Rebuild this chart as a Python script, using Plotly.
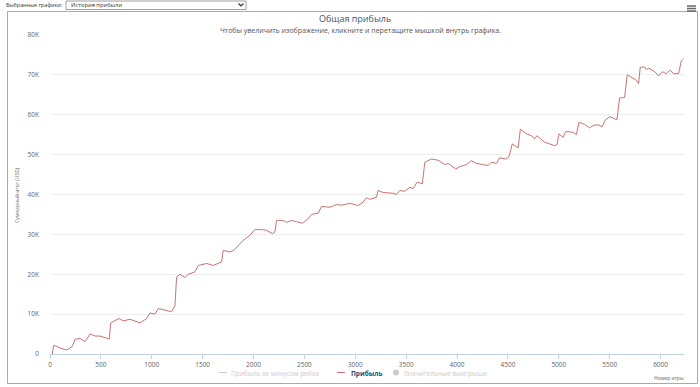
import plotly.graph_objects as go

# Game number (x) and cumulative profit in USD (y)
games = [0, 20, 35, 60, 100, 164, 213, 230, 245, 295, 344, 393, 442, 491, 583, 596,
         678, 720, 786, 884, 950, 982, 1031, 1064, 1130, 1195, 1228, 1244, 1277, 1326,
         1359, 1424, 1457, 1539, 1604, 1686, 1702, 1768, 1807, 1898, 1964, 2013, 2079,
         2128, 2187, 2210, 2226, 2291, 2324, 2373, 2422, 2481, 2537, 2570, 2635, 2668,
         2750, 2816, 2865, 2946, 3028, 3077, 3110, 3143, 3208, 3224, 3274, 3372, 3404,
         3437, 3486, 3535, 3568, 3607, 3659, 3683, 3748, 3813, 3879, 3912, 3987, 4027,
         4092, 4141, 4190, 4239, 4305, 4337, 4387, 4419, 4478, 4511, 4543, 4600, 4622,
         4674, 4730, 4763, 4785, 4861, 4910, 4959, 4982, 5001, 5041, 5067, 5139, 5172,
         5198, 5253, 5302, 5335, 5384, 5427, 5450, 5499, 5548, 5571, 5597, 5646, 5672,
         5728, 5761, 5784, 5800, 5842, 5859, 5885, 5941, 5983, 6016, 6056, 6095, 6128,
         6177, 6203, 6226]
profit = [0, -400, 2100, 2000, 1500, 1000, 1800, 2500, 3700, 3900, 3100, 5000, 4500,
          4500, 3750, 7800, 8900, 8300, 8700, 7800, 8900, 10300, 10000, 11400, 11000,
          10600, 12200, 19300, 20000, 19200, 20000, 20600, 22200, 22700, 22200, 23100,
          26000, 25600, 26000, 28500, 29750, 31200, 31200, 31000, 30200, 30600, 33500,
          33500, 33000, 33500, 33200, 32800, 33900, 35000, 35300, 37000, 36800, 37500,
          37300, 37800, 37250, 38100, 39200, 38800, 39300, 41000, 40500, 40300, 40000,
          41000, 40800, 41800, 41500, 43100, 42700, 48100, 48900, 48600, 47500, 47800,
          46400, 47000, 47500, 48500, 47800, 47500, 47250, 48100, 47800, 49200, 48900,
          49500, 52700, 51700, 56400, 55300, 54750, 54000, 54750, 53100, 52700, 52250,
          52500, 55200, 54300, 55800, 55600, 55000, 58100, 57600, 56700, 57300, 57500,
          57000, 58500, 59500, 59000, 58750, 64200, 64300, 70000, 69200, 68700, 67800,
          71900, 72000, 71300, 71700, 70800, 69750, 70800, 70300, 71200, 70300, 70300,
          73500, 74000]

x_ticks = [0, 500, 1000, 1500, 2000, 2500, 3000, 3500, 4000, 4500, 5000, 5500, 6000]
y_ticks = [0, 10000, 20000, 30000, 40000, 50000, 60000, 70000, 80000]
y_tick_labels = ["0", "10K", "20K", "30K", "40K", "50K", "60K", "70K", "80K"]

FONT = "Open Sans"
LINE_COLOR = "#C87472"
fig = go.Figure()
fig.add_trace(go.Scatter(x=games, y=profit, mode="lines",
                         line=dict(color=LINE_COLOR, width=1), name="Прибыль",
                         showlegend=False, hoverinfo="x+y"))

W, H = 700, 387
L, R, T, B = 50, 16, 35, 33
pw, ph = W - L - R, H - T - B

def px(x):
    return (x - L) / pw

def py(y):
    return (H - B - y) / ph

def seg(x0, y0, x1, y1, color, width):
    return dict(type="line", xref="paper", yref="paper",
                x0=px(x0), x1=px(x1), y0=py(y0), y1=py(y1),
                line=dict(color=color, width=width), layer="above")

shapes = []
# outer container frame
FR = "#aaaaaa"
shapes += [seg(7.5, 11.5, 697.5, 11.5, FR, 1), seg(7.5, 11.5, 7.5, 383.5, FR, 1),
           seg(7.5, 383.5, 697.5, 383.5, FR, 1), seg(697.5, 11.5, 697.5, 383.5, FR, 1)]
# select box
shapes.append(dict(type="rect", xref="paper", yref="paper",
                   x0=px(66), x1=px(246), y0=py(9.5), y1=py(1),
                   line=dict(color="#a0a0a0", width=1), fillcolor="white", layer="above"))
# chevron in the select box
shapes.append(dict(type="path", xref="paper", yref="paper",
                   path=f"M {px(238.5)} {py(3.5)} L {px(241)} {py(6)} L {px(243.5)} {py(3.5)}",
                   line=dict(color="#333333", width=1.2), layer="above"))
# hamburger icon
for yy in (6, 8.5, 11):
    shapes.append(seg(687, yy, 696, yy, "#666666", 1.5))
# legend symbols
shapes.append(seg(219, 372.5, 227, 372.5, "#cccccc", 1))
shapes.append(seg(337, 372.5, 345, 372.5, LINE_COLOR, 1))
shapes.append(dict(type="circle", xref="paper", yref="paper",
                   x0=px(393), x1=px(399), y0=py(375.5), y1=py(369.5),
                   line=dict(color="#cccccc", width=0), fillcolor="#cccccc", layer="above"))

ann = [
    dict(text="Выбранные графики:", x=px(4), y=py(5.5), xanchor="left", yanchor="middle",
         font=dict(size=5.4, color="#333333", family=FONT)),
    dict(text="История прибыли", x=px(69), y=py(5.5), xanchor="left", yanchor="middle",
         font=dict(size=5.8, color="#333333", family=FONT)),
    dict(text="Общая прибыль", x=px(355), y=py(18.5), xanchor="center", yanchor="middle",
         font=dict(size=9, color="#3E576F", family=FONT)),
    dict(text="Чтобы увеличить изображение, кликните и перетащите мышкой внутрь графика.",
         x=px(360), y=py(30), xanchor="center", yanchor="middle",
         font=dict(size=7, color="#555555", family=FONT)),
    dict(text="Суммарный итог (USD)", x=px(17), y=py(195), xanchor="center", yanchor="middle",
         textangle=-90, font=dict(size=5, color="#666666", family=FONT)),
    dict(text="Номер игры", x=px(686), y=py(377.5), xanchor="right", yanchor="middle",
         font=dict(size=5, color="#666666", family=FONT)),
    dict(text="Прибыль за минусом рейка", x=px(229), y=py(373), xanchor="left", yanchor="middle",
         font=dict(size=6.5, color="#cccccc", family=FONT)),
    dict(text="<b>Прибыль</b>", x=px(349), y=py(373), xanchor="left", yanchor="middle",
         font=dict(size=6.5, color="#274b6d", family=FONT)),
    dict(text="Значительные выигрыши", x=px(402), y=py(373), xanchor="left", yanchor="middle",
         font=dict(size=6.5, color="#cccccc", family=FONT)),
]
for a in ann:
    a.update(xref="paper", yref="paper", showarrow=False)

fig.update_layout(
    width=W, height=H,
    margin=dict(l=L, r=R, t=T, b=B),
    paper_bgcolor="white", plot_bgcolor="white",
    font=dict(family=FONT),
    shapes=shapes, annotations=ann,
    showlegend=False,
    xaxis=dict(range=[0, 6230], tickvals=x_ticks, showgrid=False, zeroline=False,
               showline=True, linecolor="#C0D0E0", linewidth=1,
               ticks="outside", ticklen=4, tickcolor="#C0D0E0",
               tickfont=dict(size=6.5, color="#666666", family=FONT)),
    yaxis=dict(range=[0, 80000], tickvals=y_ticks, ticktext=y_tick_labels,
               showgrid=True, gridcolor="#eeeeee", gridwidth=1, zeroline=False,
               showline=False, ticks="", ticklabelstandoff=10,
               tickfont=dict(size=6.5, color="#666666", family=FONT)),
)

fig.write_html("out.html", config={"displayModeBar": False},
               post_script="document.body.style.margin='0';document.body.style.overflow='hidden';")
